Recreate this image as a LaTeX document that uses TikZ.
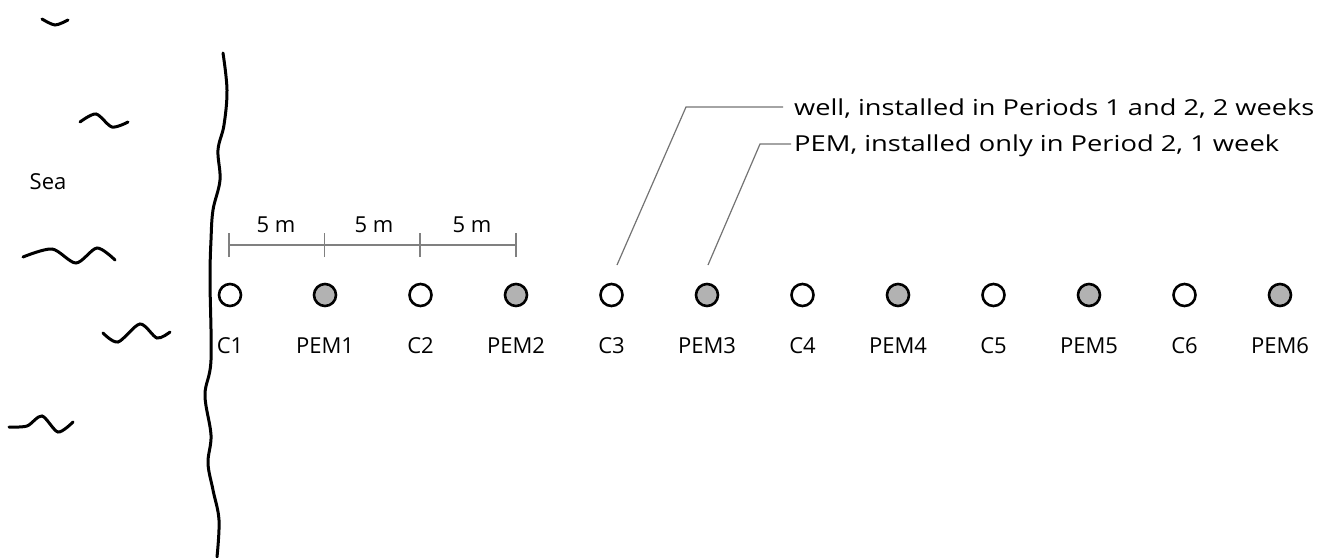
\documentclass[tikz,border=0pt]{standalone}
\usepackage{fontspec}
\setmainfont{Open Sans}
\begin{document}
\begin{tikzpicture}[x=1pt,y=-1pt,
  every node/.style={font=\fontsize{22}{26}\selectfont},
  wellc/.style={circle,draw=black,line width=2.6pt,fill=white,minimum size=22pt,inner sep=0pt},
  pemc/.style={wellc,fill=black!30},
  lbl/.style={inner sep=0pt,text height=16pt,text depth=0pt},
  wave/.style={line width=3pt,line cap=round},
  shore/.style={line width=3pt,line cap=round},
  leader/.style={draw=black!55,line width=1.2pt},
  scalebar/.style={draw=black!50,line width=1.6pt}]
\useasboundingbox (0,0) rectangle (1319,557);
% shore line
\draw[shore] plot[smooth,tension=0.6] coordinates {(223,53) (227,90) (224,125) (218,150) (220,180) (213,210) (211,240) (210,280) (211,360) (205,395) (211,435) (208,463) (213,490) (219,520) (217,557)};
% waves
\draw[wave] plot[smooth] coordinates {(42,19) (55,25) (68,20)};
\draw[wave] plot[smooth] coordinates {(80,122) (96,114) (112,127) (128,122)};
\draw[wave] plot[smooth] coordinates {(23,257) (52,249) (76,263) (97,248) (115,260)};
\draw[wave] plot[smooth] coordinates {(103,333) (118,342) (140,324) (157,338) (170,332)};
\draw[wave] plot[smooth] coordinates {(9,427) (27,426) (42,416) (58,432) (73,422)};
\node[lbl] (sea) at (48,181) {Sea};
% wells and PEMs
\foreach \i/\x in {1/230,2/420.5,3/611.5,4/802.5,5/993.5,6/1184.5}{
  \node[wellc] (c\i) at (\x,295) {};
  \node[lbl] (lc\i) at (\x,345) {C\i};
}
\foreach \i/\x in {1/325,2/516,3/707,4/898,5/1089,6/1280}{
  \node[pemc] (p\i) at (\x,295) {};
  \node[lbl] (lp\i) at (\x,345) {PEM\i};
}
% scale bar
\coordinate (s0) at (229,245);
\coordinate (s1) at (324.5,245);
\coordinate (s2) at (420,245);
\coordinate (s3) at (516,245);
\draw[scalebar] (s0) -- (s3);
\foreach \s in {s0,s1,s2,s3}{\draw[scalebar] ([yshift=-12pt]\s) -- ([yshift=12pt]\s);}
\node[lbl] (m1) at (276,224) {5 m};
\node[lbl] (m2) at (374,224) {5 m};
\node[lbl] (m3) at (472,224) {5 m};
% legend
\node[lbl,anchor=west] (t1) at (794,107) {\resizebox{520pt}{\height}{well, installed in Periods 1 and 2, 2 weeks}};
\node[lbl,anchor=west] (t2) at (794,143) {\resizebox{485pt}{\height}{PEM, installed only in Period 2, 1 week}};
\coordinate (a1) at (617,265);
\coordinate (b1) at (686,107);
\coordinate (e1) at (783,107);
\coordinate (a2) at (708,265);
\coordinate (b2) at (760,144);
\coordinate (e2) at (791,144);
\draw[leader] (a1) -- (b1) -- (e1);
\draw[leader] (a2) -- (b2) -- (e2);
\end{tikzpicture}
\end{document}
